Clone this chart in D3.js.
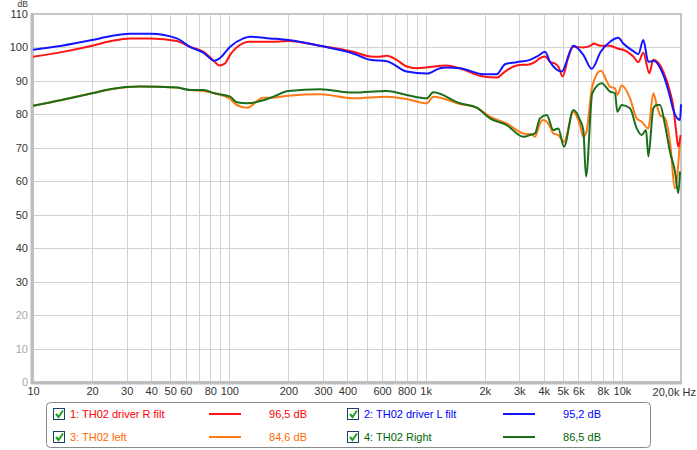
<!DOCTYPE html>
<html><head><meta charset="utf-8">
<script src="https://cdn.jsdelivr.net/npm/d3@7"></script>
<style>body{margin:0;background:#fff}svg{display:block;font-family:"Liberation Sans",Arial,sans-serif}</style>
</head><body><svg id="c" width="697" height="450"></svg>
<script>
const yTicks = [0,10,20,30,40,50,60,70,80,90,100,110];
const xGrid = [20,30,40,50,60,70,80,90,100,200,300,400,500,600,700,800,900,1000,2000,3000,4000,5000,6000,7000,8000,9000,10000,20000];
const xLabels = [[10,"10"],[20,"20"],[30,"30"],[40,"40"],[50,"50"],[60,"60"],[80,"80"],[100,"100"],[200,"200"],[300,"300"],[400,"400"],[600,"600"],[800,"800"],[1000,"1k"],[2000,"2k"],[3000,"3k"],[4000,"4k"],[5000,"5k"],[6000,"6k"],[8000,"8k"],[10000,"10k"]];

const seriesNames = ["1: TH02 driver R filt","2: TH02 driver L filt","3: TH02 left","4: TH02 Right"];
const seriesValues = ["96,5 dB","95,2 dB","84,6 dB","86,5 dB"];

const redR = [[10,97.2],[14,98.6],[20,100.5],[25,101.9],[31,102.7],[40,102.7],[54,101.9],[63,100.2],[74,98.7],[84,95.8],[89,94.6],[95,95.2],[101,97.8],[118,101.3],[127,101.7],[161,101.7],[200,101.9],[290,100.5],[428,98.7],[521,97.3],[580,97.2],[634,97.5],[712,96.3],[801,94.3],[901,93.8],[1013,94.0],[1281,94.6],[1497,93.7],[1967,91.3],[2301,91.0],[2538,92.8],[2910,94.6],[3402,95.0],[3680,96.0],[3826,96.8],[4058,97.3],[4303,95.7],[4562,95.2],[4742,94.3],[4993,91.3],[5310,96.7],[5655,100.2],[6360,100.0],[7015,100.7],[7145,101.2],[7798,100.5],[8698,100.5],[9587,99.6],[10163,99.3],[11430,97.3],[12122,95.6],[12852,98.4],[13790,92.3],[14454,96.3],[16253,92.8],[17580,86.8],[18272,82.3],[18862,75.3],[19377,70.3],[19900,73.8]];

const blueL = [[10,99.3],[14,100.5],[20,102.2],[25,103.4],[31,104.1],[40,104.1],[54,102.7],[63,100.2],[74,98.4],[84,96.0],[89,96.7],[101,100.2],[118,102.7],[127,103.2],[161,102.7],[200,102.2],[290,100.5],[428,98.2],[521,96.3],[634,95.9],[801,92.8],[1013,92.2],[1184,93.8],[1281,94.0],[1497,93.8],[1967,92.0],[2301,92.0],[2538,95.0],[2910,95.6],[3402,96.3],[3700,97.3],[4058,98.7],[4303,95.7],[4935,92.8],[5655,100.5],[6360,97.8],[7015,93.6],[7798,98.7],[8698,101.7],[9587,102.9],[10163,101.2],[11430,98.9],[12122,98.0],[12852,102.2],[13634,95.7],[14454,96.0],[16253,91.8],[17580,85.3],[18272,81.3],[19150,78.8],[19770,78.3],[20000,83.0]];

const orangeLeft = [[10,82.6],[14,84.3],[20,86.3],[25,87.5],[35,88.3],[54,88.0],[63,87.3],[74,87.0],[84,86.3],[101,84.6],[109,82.8],[123,82.0],[149,85.0],[168,85.0],[200,85.6],[290,86.0],[428,84.8],[634,85.3],[801,84.6],[1013,83.3],[1094,85.3],[1497,83.1],[1820,82.0],[2128,79.3],[2588,77.3],[3146,74.3],[3471,74.0],[3608,73.3],[3826,77.3],[3950,78.3],[4140,77.8],[4303,76.3],[4472,74.3],[4742,73.8],[5070,71.8],[5655,80.8],[6117,76.8],[6360,73.3],[6565,74.3],[7063,88.3],[7798,93.0],[8698,88.3],[9223,87.8],[9475,85.8],[9978,88.6],[10999,84.8],[11897,78.8],[12613,77.8],[13634,75.8],[14454,86.3],[15043,82.8],[15639,79.8],[16583,78.8],[17580,71.8],[18643,57.9],[19770,72.3]];

const greenRight = [[10,82.6],[14,84.3],[20,86.3],[25,87.6],[35,88.3],[54,88.0],[63,87.3],[74,87.3],[84,86.3],[101,85.3],[109,83.6],[123,83.3],[149,84.2],[168,85.3],[200,87.0],[290,87.5],[428,86.5],[634,87.0],[801,85.8],[1013,84.8],[1094,86.6],[1497,83.3],[1820,82.0],[2128,78.8],[2588,76.8],[3146,73.3],[3471,74.0],[3608,74.3],[3826,78.8],[4140,79.8],[4472,75.3],[4742,75.8],[5070,70.3],[5655,81.3],[6117,78.3],[6360,75.3],[6565,61.4],[7063,86.3],[7888,89.3],[8698,86.8],[9223,86.3],[9475,80.8],[9978,82.8],[10999,81.8],[11897,75.8],[12613,73.8],[13271,75.3],[13634,67.4],[14454,81.8],[15043,82.8],[15639,82.8],[16583,76.8],[17580,68.8],[18643,62.9],[19377,56.4],[19770,62.9]];

const lineColors = ["#ff1414","#1414ff","#ff7a14","#1a6e1a"];
const textColors = ["#ff0000","#0000ff","#ff6a00","#006600"];

const svg = d3.select("#c");
const x = d3.scaleLog().domain([10,20000]).range([33,681]);
const y = d3.scaleLinear().domain([0,110]).range([382,14]);

// grid
const g = svg.append("g");
g.selectAll(".vg").data(xGrid).join("line")
  .attr("x1",d=>Math.round(x(d))+0.5).attr("x2",d=>Math.round(x(d))+0.5)
  .attr("y1",y(110)).attr("y2",y(0)).attr("stroke","#d2d2d2").attr("stroke-width",1);
g.selectAll(".hg").data(yTicks.slice(1,-1)).join("line")
  .attr("x1",x(10)).attr("x2",x(20000))
  .attr("y1",d=>Math.round(y(d))+0.5).attr("y2",d=>Math.round(y(d))+0.5)
  .attr("stroke","#d2d2d2").attr("stroke-width",1);

// frame
svg.append("rect").attr("x",x(10)).attr("y",y(110)).attr("width",x(20000)-x(10)).attr("height",y(0)-y(110))
  .attr("fill","none").attr("stroke","#c6c6c6").attr("stroke-width",2);
svg.append("line").attr("x1",x(10)-1).attr("x2",x(10)-1).attr("y1",y(110)-1).attr("y2",y(0)+2).attr("stroke","#bdbdbd").attr("stroke-width",3);
svg.append("line").attr("x1",x(10)-2).attr("x2",x(20000)+1).attr("y1",y(0)+1).attr("y2",y(0)+1).attr("stroke","#bdbdbd").attr("stroke-width",3);

// y labels
const yAxis = d3.axisLeft(y).tickValues(yTicks).tickSize(0).tickPadding(0);
const ya = svg.append("g").attr("transform","translate(28,0)").call(yAxis);
ya.select(".domain").remove();
ya.selectAll("text").attr("font-size",11).attr("fill",d=>d<=20?"#a8a8a8":"#333").attr("font-family","Liberation Sans, Arial, sans-serif");
svg.append("text").attr("x",28).attr("y",7).attr("text-anchor","end").attr("font-size",8.5).attr("fill","#333").text("dB");

// x labels
const xa = svg.append("g").attr("transform","translate(0,387)")
  .call(d3.axisBottom(x).tickValues(xLabels.map(d=>d[0])).tickFormat((d,i)=>xLabels[i][1]).tickSize(0).tickPadding(0));
xa.select(".domain").remove();
xa.selectAll("text").attr("font-size",11).attr("fill","#333").attr("font-family","Liberation Sans, Arial, sans-serif");
svg.append("text").attr("x",696).attr("y",396).attr("text-anchor","end").attr("font-size",11).attr("fill","#333").text("20,0k Hz");

// curves
svg.append("clipPath").attr("id","pc").append("rect").attr("x",x(10)).attr("y",y(110)).attr("width",x(20000)-x(10)+1).attr("height",y(0)-y(110));
const line = d3.line().x(d=>x(d[0])).y(d=>y(d[1])).curve(d3.curveMonotoneX);
const allSeries = [redR, blueL, orangeLeft, greenRight];
const drawOrder = [2,3,0,1];
svg.append("g").attr("clip-path","url(#pc)").selectAll("path").data(drawOrder).join("path")
  .attr("d",i=>line(allSeries[i])).attr("fill","none").attr("stroke",i=>lineColors[i]).attr("stroke-width",2).attr("stroke-linejoin","round");

// legend
const lg = svg.append("g");
lg.append("rect").attr("x",46.5).attr("y",402.5).attr("width",604).attr("height",45).attr("rx",4)
  .attr("fill","#fff").attr("stroke","#8a8a8a");
const pos = [[0,0],[294,0],[0,23],[294,23]];
seriesNames.forEach((name,i)=>{
  const [dx,dy] = pos[i];
  const row = lg.append("g").attr("transform",`translate(${dx},${dy})`);
  row.append("rect").attr("x",53.5).attr("y",408.5).attr("width",11).attr("height",11).attr("fill","#fff").attr("stroke","#1f3f66");
  row.append("path").attr("d","M56,414 L58.5,417 L63,410.5").attr("fill","none").attr("stroke","#22a022").attr("stroke-width",2);
  row.append("text").attr("x",70).attr("y",418).attr("font-size",11).attr("fill",textColors[i]).text(name);
  row.append("line").attr("x1",209).attr("x2",241).attr("y1",414).attr("y2",414).attr("stroke",lineColors[i]).attr("stroke-width",2);
  row.append("text").attr("x",307).attr("y",418).attr("text-anchor","end").attr("font-size",11).attr("fill",textColors[i]).text(seriesValues[i]);
});
</script></body></html>
